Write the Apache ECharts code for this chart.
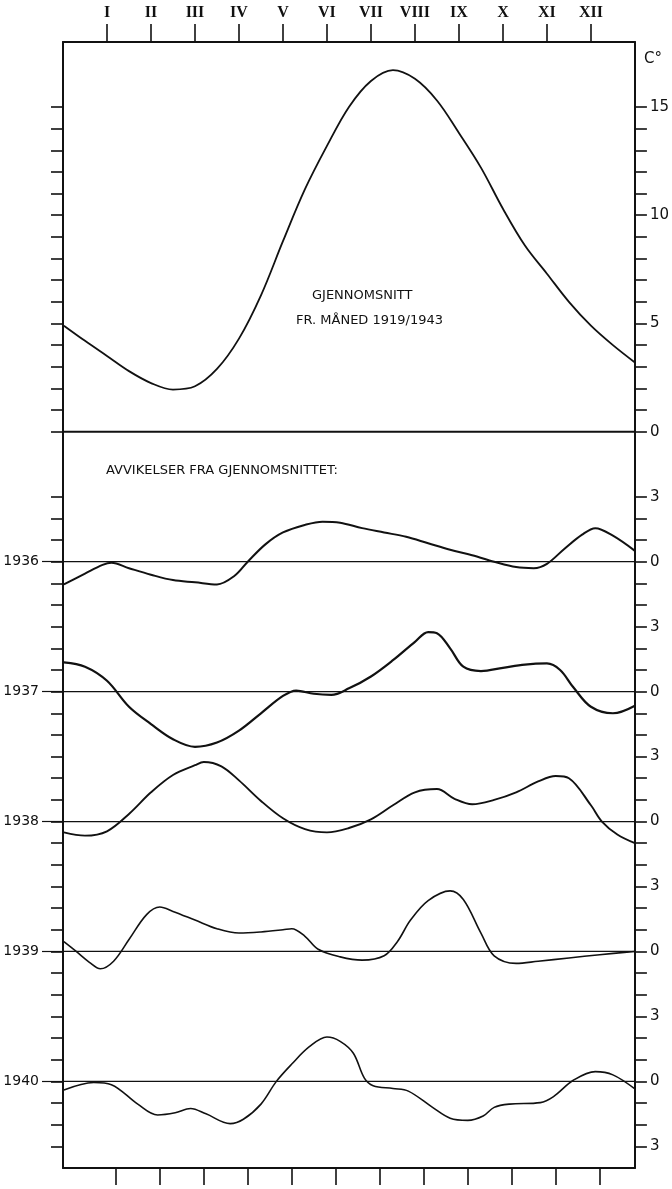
<!DOCTYPE html>
<html>
<head>
<meta charset="utf-8">
<script src="https://cdn.jsdelivr.net/npm/echarts@6/dist/echarts.min.js"></script>
<style>
  html, body { margin: 0; padding: 0; background: #ffffff; }
  #chart { width: 672px; height: 1189px; }
</style>
</head>
<body>
<div id="chart"></div>
<script>
// Months along the top axis
const monthLabels = ['I', 'II', 'III', 'IV', 'V', 'VI', 'VII', 'VIII', 'IX', 'X', 'XI', 'XII'];

// Mean monthly temperature 1919/1943 (°C), as [month position, value]
const meanTemp = [
  [0.02, 4.9], [0.5, 4.2], [1.0, 3.5], [1.5, 2.8], [2.0, 2.25], [2.5, 1.95], [3.0, 2.1],
  [3.5, 2.9], [4.0, 4.3], [4.5, 6.3], [5.0, 8.8], [5.5, 11.2], [6.0, 13.2], [6.5, 15.0],
  [7.0, 16.2], [7.5, 16.7], [8.0, 16.3], [8.5, 15.3], [9.0, 13.8], [9.5, 12.2], [10.0, 10.3],
  [10.5, 8.6], [11.0, 7.3], [11.5, 6.0], [12.0, 4.9], [12.5, 4.0], [13.0, 3.2]
];

// Deviations from the mean (°C) for each year
const dev1936 = [
  [0.02, -1.05], [0.5, -0.55], [0.9, -0.15], [1.1, -0.05], [1.5, -0.3], [2.0, -0.6], [2.5, -0.85],
  [3.0, -0.95], [3.5, -1.05], [3.9, -0.65], [4.2, 0.0], [4.6, 0.8], [5.0, 1.35], [5.5, 1.7],
  [5.9, 1.85], [6.3, 1.8], [6.8, 1.55], [7.3, 1.35], [7.8, 1.15], [8.3, 0.85], [8.8, 0.55],
  [9.3, 0.3], [9.8, 0.0], [10.3, -0.25], [10.7, -0.3], [11.0, -0.1], [11.4, 0.6], [11.8, 1.25],
  [12.1, 1.55], [12.5, 1.2], [13.0, 0.5]
];
const dev1937 = [
  [0.02, 1.35], [0.5, 1.15], [1.0, 0.5], [1.5, -0.7], [2.0, -1.5], [2.5, -2.2], [3.0, -2.55],
  [3.5, -2.35], [4.0, -1.8], [4.5, -1.0], [5.0, -0.2], [5.3, 0.05], [5.7, -0.1], [6.1, -0.15],
  [6.5, 0.15], [7.0, 0.7], [7.5, 1.45], [8.0, 2.3], [8.3, 2.75], [8.5, 2.7], [8.8, 2.0],
  [9.1, 1.15], [9.5, 0.95], [10.0, 1.1], [10.5, 1.25], [11.0, 1.3], [11.3, 1.0], [11.6, 0.2],
  [12.0, -0.7], [12.5, -1.0], [13.0, -0.65]
];
const dev1938 = [
  [0.02, -0.5], [0.5, -0.65], [1.0, -0.45], [1.5, 0.35], [2.0, 1.35], [2.5, 2.15], [3.0, 2.6],
  [3.2, 2.75], [3.6, 2.55], [4.0, 1.9], [4.5, 0.95], [5.0, 0.15], [5.5, -0.35], [6.0, -0.5],
  [6.5, -0.3], [7.0, 0.1], [7.5, 0.75], [8.0, 1.35], [8.5, 1.5], [8.9, 1.05], [9.3, 0.8],
  [9.8, 1.0], [10.3, 1.35], [10.8, 1.85], [11.2, 2.1], [11.5, 2.0], [12.0, 0.75], [12.25, 0.0],
  [12.6, -0.6], [13.0, -1.0]
];
const dev1939 = [
  [0.02, 0.45], [0.3, 0.0], [0.6, -0.5], [0.85, -0.8], [1.15, -0.45], [1.5, 0.55], [1.9, 1.7],
  [2.2, 2.05], [2.5, 1.85], [3.0, 1.45], [3.5, 1.05], [4.0, 0.85], [4.5, 0.9], [5.0, 1.0],
  [5.2, 1.05], [5.5, 0.7], [5.8, 0.1], [6.3, -0.25], [6.8, -0.4], [7.3, -0.2], [7.6, 0.45],
  [7.9, 1.45], [8.3, 2.35], [8.8, 2.8], [9.1, 2.4], [9.5, 0.85], [9.8, -0.2], [10.3, -0.55],
  [10.8, -0.45], [11.5, -0.3], [12.2, -0.15], [13.0, 0.0]
];
const dev1940 = [
  [0.02, -0.4], [0.7, -0.05], [1.1, -0.15], [1.7, -1.05], [2.15, -1.55], [2.55, -1.45],
  [2.9, -1.25], [3.25, -1.5], [3.8, -1.95], [4.1, -1.75], [4.5, -1.05], [4.85, 0.0], [5.2, 0.8],
  [5.6, 1.6], [6.0, 2.05], [6.3, 1.85], [6.6, 1.3], [6.85, 0.15], [7.05, -0.2], [7.5, -0.33],
  [7.85, -0.45], [8.4, -1.2], [8.8, -1.7], [9.2, -1.8], [9.55, -1.6], [9.8, -1.2], [10.15, -1.05],
  [10.85, -0.98], [11.15, -0.7], [11.6, 0.05], [12.1, 0.45], [12.5, 0.3], [13.0, -0.35]
];

const yearLabels = ['1936', '1937', '1938', '1939', '1940'];
const deviations = [dev1936, dev1937, dev1938, dev1939, dev1940];

// Tick labels on the right-hand scale
const meanTickLabels = [0, 5, 10, 15];
const devTickLabels = ['3', '0'];

// Each year gets its own band, stacked below the mean panel, 6 °C apart
const ROW = 6;
const baselines = yearLabels.map((_, i) => -ROW * (i + 1));
const yMin = -34, yMax = 18;

const ink = '#111111';
const serifFont = '"Liberation Serif", "DejaVu Serif", serif';
const handFont = '"DejaVu Sans", "Liberation Sans", sans-serif';

// Ticks: every degree of the mean panel, and every degree of the deviation bands
const yTicks = [];
for (let v = 0; v <= 15; v++) yTicks.push(v);
for (let v = -3; v >= -33; v--) yTicks.push(v);

const rightLabelValues = meanTickLabels.slice();
for (let v = -3; v >= -33; v -= 3) rightLabelValues.push(v);

function rightLabel(v) {
  if (v >= 0) return String(v);
  return ((-v) % ROW === 0) ? devTickLabels[1] : devTickLabels[0];
}
function leftLabel(v) {
  const i = baselines.indexOf(v);
  return i >= 0 ? yearLabels[i] : '';
}

const monthTicks = monthLabels.map((_, i) => i + 1);
const bottomTicks = monthLabels.map((_, i) => i + 1.2);

const series = [];

// Zero line of the mean panel
series.push({
  type: 'line', silent: true, symbol: 'none',
  data: [[0, 0], [13, 0]],
  lineStyle: { color: ink, width: 2 }
});

// Mean temperature curve
series.push({
  type: 'line', name: 'GJENNOMSNITT', symbol: 'none', smooth: 0.35,
  data: meanTemp,
  lineStyle: { color: ink, width: 1.8 }
});

const widths = [2.0, 2.2, 1.9, 1.6, 1.6];
deviations.forEach((dev, i) => {
  const base = baselines[i];
  series.push({
    type: 'line', silent: true, symbol: 'none',
    data: [[0, base], [13, base]],
    lineStyle: { color: ink, width: 1.2 }
  });
  series.push({
    type: 'line', name: yearLabels[i], symbol: 'none', smooth: 0.35,
    data: dev.map(([m, v]) => [m, v + base]),
    lineStyle: { color: ink, width: widths[i] }
  });
});

const chart = echarts.init(document.getElementById('chart'), null, { renderer: 'canvas' });
chart.setOption({
  animation: false,
  backgroundColor: '#ffffff',
  grid: { left: 63, right: 36, top: 42, bottom: 21, containLabel: false },
  xAxis: [
    {
      type: 'value', position: 'top', min: 0, max: 13,
      axisLine: { show: true, onZero: false, lineStyle: { color: ink, width: 2 } },
      axisTick: { show: true, customValues: monthTicks, length: 18, lineStyle: { color: ink, width: 1.6 } },
      axisLabel: {
        show: true, customValues: monthTicks, margin: 21,
        formatter: v => monthLabels[Math.round(v) - 1] || '',
        color: ink, fontFamily: serifFont, fontWeight: 'bold', fontSize: 16
      },
      splitLine: { show: false }
    },
    {
      type: 'value', position: 'bottom', min: 0, max: 13,
      axisLine: { show: true, onZero: false, lineStyle: { color: ink, width: 2 } },
      axisTick: { show: true, customValues: bottomTicks, length: 17, lineStyle: { color: ink, width: 1.6 } },
      axisLabel: { show: false },
      splitLine: { show: false }
    }
  ],
  yAxis: [
    {
      type: 'value', position: 'left', min: yMin, max: yMax,
      axisLine: { show: true, onZero: false, lineStyle: { color: ink, width: 2 } },
      axisTick: { show: true, customValues: yTicks, length: 12, lineStyle: { color: ink, width: 1.6 } },
      axisLabel: { show: false },
      splitLine: { show: false }
    },
    {
      type: 'value', position: 'right', min: yMin, max: yMax,
      axisLine: { show: true, onZero: false, lineStyle: { color: ink, width: 2 } },
      axisTick: { show: true, customValues: yTicks, length: 12, lineStyle: { color: ink, width: 1.6 } },
      axisLabel: {
        show: true, customValues: rightLabelValues, margin: 15,
        formatter: rightLabel, color: ink, fontFamily: handFont, fontSize: 15
      },
      splitLine: { show: false }
    },
    {
      // Year zero lines run a little further out to the left, next to the year
      type: 'value', position: 'left', min: yMin, max: yMax,
      axisLine: { show: false },
      axisTick: { show: true, customValues: baselines, length: 21, lineStyle: { color: ink, width: 1.2 } },
      axisLabel: {
        show: true, customValues: baselines, margin: 24,
        formatter: leftLabel, color: ink, fontFamily: handFont, fontSize: 14
      },
      splitLine: { show: false }
    }
  ],
  graphic: [
    {
      type: 'text', left: 644, top: 52,
      style: { text: 'C°', fill: ink, font: '15px ' + handFont }
    },
    {
      type: 'text', left: 312, top: 289,
      style: { text: 'GJENNOMSNITT', fill: ink, font: '13px ' + handFont }
    },
    {
      type: 'text', left: 296, top: 314,
      style: { text: 'FR. MÅNED 1919/1943', fill: ink, font: '13px ' + handFont }
    },
    {
      type: 'text', left: 106, top: 464,
      style: { text: 'AVVIKELSER FRA GJENNOMSNITTET:', fill: ink, font: '13px ' + handFont }
    }
  ],
  series: series
});
</script>
</body>
</html>
